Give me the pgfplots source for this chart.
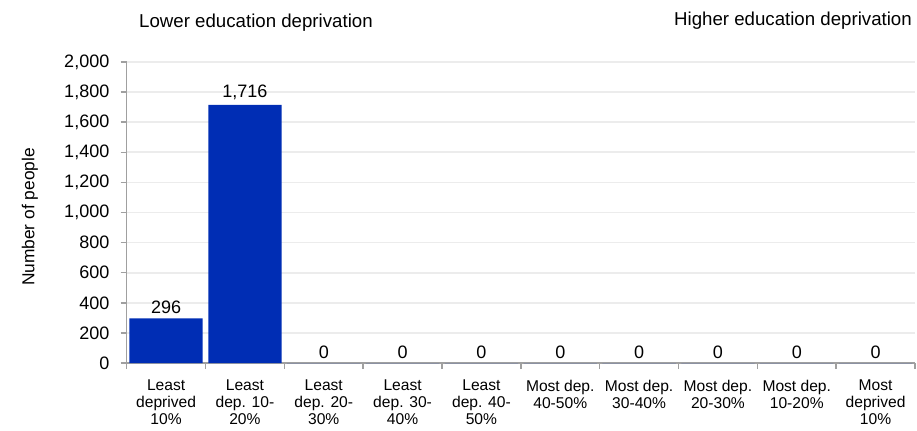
\documentclass[border=0pt]{standalone}
\usepackage{fontspec}
\setmainfont{Liberation Sans}
\usepackage{pgfplots}
\pgfplotsset{compat=1.18}
\definecolor{barblue}{RGB}{0,45,180}
\definecolor{axgray}{RGB}{160,160,160}
\definecolor{gridgray}{RGB}{236,236,236}
\begin{document}
\begin{tikzpicture}
\path[use as bounding box] (-95pt,-50.25pt) rectangle (592.7pt,272.25pt);
\begin{axis}[
  scale only axis,
  width=591.2pt, height=225.75pt,
  xmin=-0.5, xmax=9.5,
  ymin=0, ymax=2000,
  ytick={0,200,...,2000},
  xtick={0,...,9},
  minor xtick={-0.5,0.5,...,9.5},
  xticklabels={Least\\deprived\\10\%, Least\\dep. 10-\\20\%, Least\\dep. 20-\\30\%,
    Least\\dep. 30-\\40\%, Least\\dep. 40-\\50\%, Most dep.\\40-50\%,
    Most dep.\\30-40\%, Most dep.\\20-30\%, Most dep.\\10-20\%, Most\\deprived\\10\%},
  xticklabel style={align=center, font=\fontsize{11.7}{12.8}\selectfont, yshift=-4.5pt},
  yticklabel style={font=\fontsize{13.5}{15}\selectfont, xshift=-5pt},
  /pgf/number format/assume math mode=true,
  /pgf/number format/1000 sep={,},
  axis x line*=bottom, axis y line*=left,
  axis line style={axgray, line width=1.1pt, -},
  tick align=outside,
  major x tick style={draw=none},
  minor x tick style={axgray, line width=1.1pt},
  minor tick length=4.5pt,
  major y tick style={axgray, line width=1.1pt},
  major tick length=4.5pt,
  ymajorgrids,
  major grid style={gridgray, line width=1.3pt},
  ylabel={Number of people},
  ylabel style={at={(axis description cs:-0.1227,0.485)}, anchor=center,
    font=\fontsize{13}{15}\selectfont},
  ybar, bar width=0.93,
  nodes near coords,
  every node near coord/.append style={font=\fontsize{13.5}{15}\selectfont, black},
]
\addplot[fill=barblue, draw=none] coordinates {
  (0,296) (1,1716) (2,0) (3,0) (4,0) (5,0) (6,0) (7,0) (8,0) (9,0)
};
\end{axis}
\node[anchor=base west, inner sep=0pt, font=\fontsize{14}{16}\selectfont] at (9.2pt,252pt) {Lower education deprivation};
\node[anchor=base east, inner sep=0pt, font=\fontsize{14}{16}\selectfont] at (589pt,253.5pt) {Higher education deprivation};
\end{tikzpicture}
\end{document}
